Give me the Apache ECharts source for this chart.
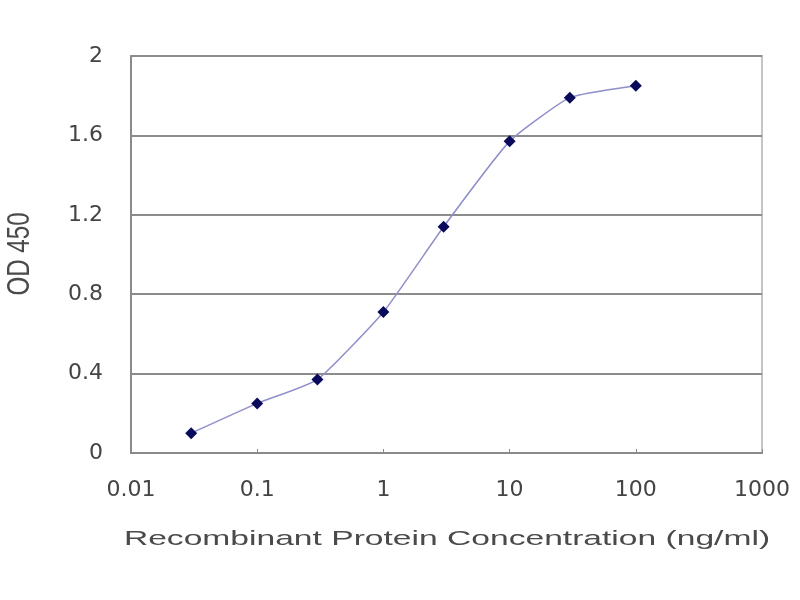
<!DOCTYPE html>
<html lang="en">
<head>
    <meta charset="UTF-8">
    <title>OD 450 curve</title>
    <script src="https://cdn.jsdelivr.net/npm/echarts@6/dist/echarts.min.js"></script>
</head>
<body style="margin:0">
<div id="my" style="width: 800px;height: 600px;"></div>
<script>
    // concentration (ng/ml) and OD 450
    var conc = [0.03, 0.1, 0.3, 1, 3, 10, 30, 100]
    var od = [0.10, 0.25, 0.37, 0.71, 1.14, 1.57, 1.79, 1.85]
    var yTicks = [0, 0.4, 0.8, 1.2, 1.6, 2]

    var points = conc.map(function (c, i) { return [c, od[i]] })

    var mCharts = echarts.init(document.getElementById('my'))
    var option = {
        backgroundColor: '#fff',
        animation: false,
        grid: {
            left: 131, right: 38, top: 56, bottom: 147,
            show: true,
            borderColor: '#c4c4c4',
            borderWidth: 2
        },
        xAxis: {
            type: 'log',
            logBase: 10,
            min: 0.01,
            max: 1000,
            axisLine: { lineStyle: { color: '#8a8a8a', width: 2 } },
            axisTick: { inside: true, length: 4, lineStyle: { color: '#8a8a8a' } },
            splitLine: { show: false },
            axisLabel: {
                margin: 26,
                color: '#444',
                fontSize: 22,
                fontFamily: 'DejaVu Sans',
                formatter: function (v) { return String(v) }
            }
        },
        yAxis: {
            type: 'value',
            min: yTicks[0],
            max: yTicks[yTicks.length - 1],
            interval: 0.4,
            axisLine: { show: true, lineStyle: { color: '#8a8a8a', width: 2 } },
            axisTick: { show: true, inside: true, length: 4, lineStyle: { color: '#8a8a8a' } },
            splitLine: { lineStyle: { color: '#8c8c8c', width: 2 } },
            axisLabel: {
                margin: 28,
                color: '#444',
                fontSize: 22,
                fontFamily: 'DejaVu Sans'
            }
        },
        graphic: [
            {
                type: 'text', x: 447, y: 539, scaleX: 1.6,
                style: {
                    text: 'Recombinant Protein Concentration (ng/ml)',
                    fontSize: 21, fontFamily: 'Liberation Sans',
                    fill: '#4a4a4a', align: 'center', verticalAlign: 'middle'
                }
            },
            {
                type: 'text', x: 20, y: 254, rotation: Math.PI / 2, scaleX: 1.15, scaleY: 1.5,
                style: {
                    text: 'OD 450',
                    fontSize: 21, fontFamily: 'Liberation Sans',
                    fill: '#4a4a4a', align: 'center', verticalAlign: 'middle'
                }
            }
        ],
        series: [
            {
                name: 'OD 450',
                type: 'line',
                data: points,
                smooth: 0.15,
                symbol: 'diamond',
                symbolSize: 12,
                lineStyle: { color: '#8f8fcc', width: 1.5 },
                itemStyle: { color: '#0a0a5c' }
            }
        ]
    }
    mCharts.setOption(option)
</script>
</body>
</html>
